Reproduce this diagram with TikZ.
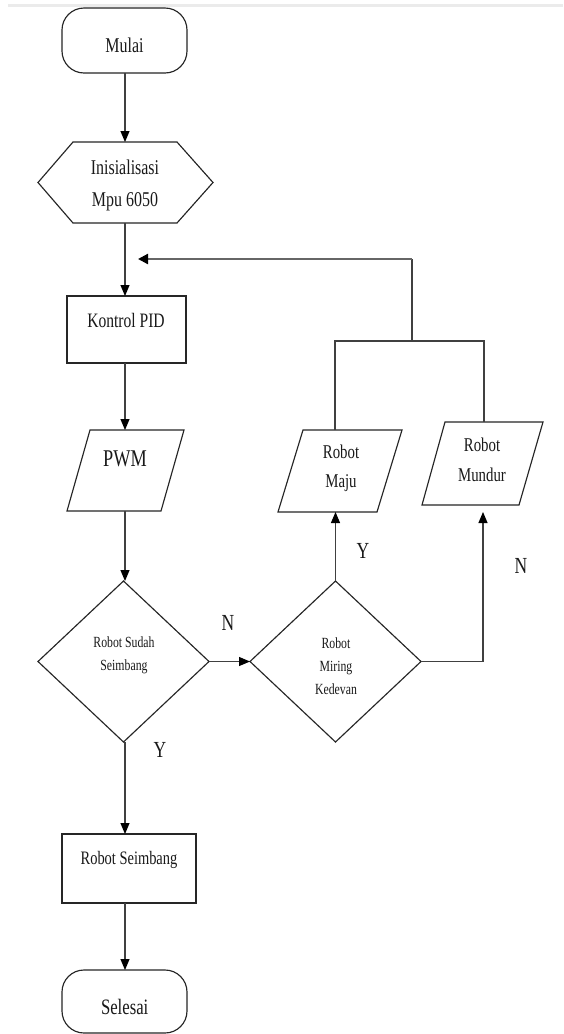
\documentclass[tikz,border=0pt]{standalone}
\usepackage{fontspec}
\setmainfont{Liberation Serif}[FakeStretch=0.76]
\usetikzlibrary{arrows.meta}
\tikzset{
  frame/.style={rectangle, inner sep=0pt, outer sep=0pt},
  outl/.style={draw=black!85, line width=1.15pt, line join=miter},
  conn/.style={draw=black!75, line width=1.1pt},
  arr/.style={conn, -{Triangle[length=11pt,width=9pt,fill=black,color=black]}},
  txt/.style={inner sep=0pt, align=center, text=black!90},
  lab/.style={txt, font=\fontsize{23}{26}\selectfont}
}
\begin{document}
\begin{tikzpicture}[x=1pt,y=-1pt]
\useasboundingbox (0,0) rectangle (563,1034);
\fill[white] (0,0) rectangle (563,1034);
\draw[black!8, line width=3pt] (8,5.5) -- (563,5.5);

% shape frames
\node[frame, minimum width=125pt, minimum height=65pt] (start) at (124.5,40.5) {};
\node[frame, minimum width=175pt, minimum height=81pt] (init) at (125.5,182.5) {};
\node[frame, minimum width=119pt, minimum height=67pt] (kpid) at (126.5,329.5) {};
\node[frame, minimum width=117pt, minimum height=81pt] (pwm) at (125.5,470.5) {};
\node[frame, minimum width=171pt, minimum height=161pt] (d1) at (123.5,661.5) {};
\node[frame, minimum width=171pt, minimum height=161pt] (d2) at (335.5,661.5) {};
\node[frame, minimum width=124pt, minimum height=82pt] (maju) at (340,471) {};
\node[frame, minimum width=121pt, minimum height=83pt] (mundur) at (482.5,463.5) {};
\node[frame, minimum width=134pt, minimum height=69pt] (rs) at (129,868.5) {};
\node[frame, minimum width=125pt, minimum height=63pt] (end) at (124.5,1001.5) {};

% outlines
\draw[outl, rounded corners=22pt] (start.south west) rectangle (start.north east);
\draw[outl] ([xshift=35pt]init.north west) -- ([xshift=-36pt]init.north east) -- (init.east)
  -- ([xshift=-36pt]init.south east) -- ([xshift=35pt]init.south west) -- (init.west) -- cycle;
\draw[outl] (kpid.south west) rectangle (kpid.north east);
\draw[outl] ([xshift=23pt]pwm.north west) -- (pwm.north east) -- ([xshift=-23pt]pwm.south east) -- (pwm.south west) -- cycle;
\draw[outl] (d1.north) -- (d1.east) -- (d1.south) -- (d1.west) -- cycle;
\draw[outl] (d2.north) -- (d2.east) -- (d2.south) -- (d2.west) -- cycle;
\draw[outl] ([xshift=25pt]maju.north west) -- (maju.north east) -- ([xshift=-25pt]maju.south east) -- (maju.south west) -- cycle;
\draw[outl] ([xshift=23pt]mundur.north west) -- (mundur.north east) -- ([xshift=-24pt]mundur.south east) -- (mundur.south west) -- cycle;
\draw[outl] (rs.south west) rectangle (rs.north east);
\draw[outl, rounded corners=22pt] (end.south west) rectangle (end.north east);

% texts
\node[txt, font=\fontsize{21}{32}\selectfont] (start-t) at (124.5,45) {Mulai};
\node[txt, font=\fontsize{21}{32}\selectfont] (init-t) at (125,185) {Inisialisasi\\Mpu 6050};
\node[txt, font=\fontsize{20.5}{30}\selectfont] (kpid-t) at (126,320) {Kontrol PID};
\node[txt, font=\fontsize{24}{30}\selectfont] (pwm-t) at (125,459) {PWM};
\node[txt, font=\fontsize{19.5}{29}\selectfont] (maju-t) at (341,468) {Robot\\Maju};
\node[txt, font=\fontsize{19.5}{30}\selectfont] (mundur-t) at (482,460) {Robot\\Mundur};
\node[txt, font=\fontsize{15.5}{23}\selectfont] (d1-t) at (124,655) {Robot Sudah\\Seimbang};
\node[txt, font=\fontsize{15.5}{23}\selectfont] (d2-t) at (336,666) {Robot\\Miring\\Kedevan};
\node[txt, font=\fontsize{19}{28}\selectfont] (rs-t) at (129,860) {Robot Seimbang};
\node[txt, font=\fontsize{22}{28}\selectfont] (end-t) at (124.7,1007) {Selesai};

% labels
\node[lab] (lN1) at (228,623) {N};
\node[lab] (lY1) at (160,750) {Y};
\node[lab] (lY2) at (363,551) {Y};
\node[lab] (lN2) at (521,566) {N};

% junction coordinates
\coordinate (j1) at (335,341);
\coordinate (j2) at (484,341);
\coordinate (jm) at (412,341);
\coordinate (jt) at (412,259);
\coordinate (fb) at (138,259);
\coordinate (rt) at (483,661.5);
\coordinate (mu) at (483,512);

% connectors
\draw[arr] (start.south -| 125,0) -- (init.north -| 125,0);
\draw[arr] (init.south -| 125,0) -- (kpid.north -| 125,0);
\draw[arr] (kpid.south -| 125,0) -- (pwm.north -| 125,0);
\draw[arr] (pwm.south -| 125,0) -- (d1.north -| 125,0);
\draw[arr] (d1.south -| 125,0) -- (rs.north -| 125,0);
\draw[arr] (rs.south -| 125,0) -- (end.north -| 125,0);
\draw[arr] (d1.east) -- (d2.west);
\draw[arr] (d2.north) -- (maju.south -| d2.north);
\draw[conn] (d2.east) -- (rt);
\draw[arr] (rt) -- (mu);
\draw[conn] (maju.north -| j1) -- (j1) -- (j2) -- (mundur.north -| j2);
\draw[conn] (jm) -- (jt);
\draw[draw=black!60, line width=2.2pt, -{Triangle[length=10pt,width=10pt,fill=black,color=black]}] (jt) -- (fb);
\end{tikzpicture}
\end{document}
